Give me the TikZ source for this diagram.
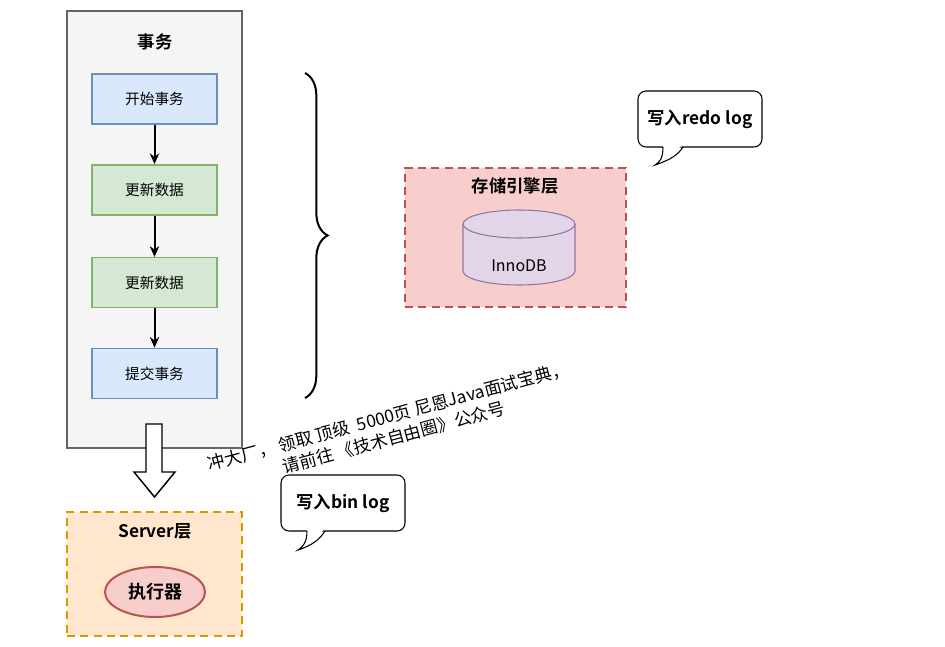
\documentclass[tikz,border=0pt]{standalone}
\usepackage{fontspec}
\setmainfont{Noto Sans CJK SC}[BoldFont={Noto Sans CJK SC Bold}]
\usepackage{xcolor}
\usepackage{tikz}
\usetikzlibrary{shapes.geometric, arrows.meta, positioning, decorations.pathreplacing}

\definecolor{txFill}{HTML}{F5F5F5}
\definecolor{txLine}{HTML}{666666}
\definecolor{blueFill}{HTML}{DAE8FC}
\definecolor{blueLine}{HTML}{6C8EBF}
\definecolor{greenFill}{HTML}{D5E8D4}
\definecolor{greenLine}{HTML}{82B366}
\definecolor{redFill}{HTML}{F8CECC}
\definecolor{redLine}{HTML}{B85450}
\definecolor{orangeFill}{HTML}{FFE6CC}
\definecolor{orangeLine}{HTML}{D79B00}
\definecolor{purpleFill}{HTML}{E1D5E7}
\definecolor{purpleLine}{HTML}{9673A6}

\tikzset{
    stepbox/.style={draw, rectangle, line width=1.1pt, minimum width=93.75pt, minimum height=37.5pt, font=\fontsize{11}{13}\selectfont},
    txbox/.style={stepbox, fill=blueFill, draw=blueLine},
    databox/.style={stepbox, fill=greenFill, draw=greenLine},
    flowarrow/.style={-{Stealth[length=8pt, width=7pt]}, line width=1.5pt},
    layerbox/.style={draw, rectangle, line width=1.5pt, dash pattern=on 6pt off 4pt},
    titletext/.style={font=\fontsize{13}{15}\selectfont\bfseries},
    bubble/.style={draw, fill=white, line width=0.8pt, rounded corners=6pt, minimum width=93pt, minimum height=42pt, font=\fontsize{13}{15}\selectfont\bfseries},
}

\begin{document}
\begin{tikzpicture}[x=0.75pt, y=-0.75pt]
    \useasboundingbox (0,0) rectangle (945,646);

    % 事务
    \node[draw=txLine, fill=txFill, line width=1.5pt, minimum width=131.25pt, minimum height=327.75pt] (tx) at (154.5,229.5) {};
    \node[titletext] (txtitle) at (155,42) {事务};
    \node[txbox] (begin) at (154.5,99) {开始事务};
    \node[databox, below=29.5pt of begin] (update1) {更新数据};
    \node[databox, below=31pt of update1] (update2) {更新数据};
    \node[txbox, below=29.5pt of update2] (commit) {提交事务};
    \draw[flowarrow] (begin) -- (update1);
    \draw[flowarrow] (update1) -- (update2);
    \draw[flowarrow] (update2) -- (commit);

    % 空心箭头
    \draw[line width=1.1pt, fill=white] (146,424) -- (162,424) -- (162,472) -- (175,472) -- (154.5,497) -- (134,472) -- (146,472) -- cycle;

    % Server层
    \node[layerbox, fill=orangeFill, draw=orangeLine, minimum width=131.25pt, minimum height=93pt] (server) at (154.5,574) {};
    \node[titletext] (servertitle) at (155,531) {Server层};
    \node[ellipse, draw=redLine, fill=redFill, line width=1.5pt, minimum width=75pt, minimum height=37.5pt, font=\fontsize{13.5}{15}\selectfont\bfseries] (executor) at (155,592) {执行器};

    % 括号
    \coordinate (bracetop) at (305,73);
    \coordinate (bracebot) at (305,398);
    \draw[line width=1.5pt, decorate, decoration={brace, amplitude=17pt}] (bracetop) -- (bracebot);

    % 存储引擎层
    \node[layerbox, fill=redFill, draw=redLine, minimum width=165.75pt, minimum height=104.25pt] (engine) at (515.5,237.5) {};
    \node[titletext] (enginetitle) at (515,186) {存储引擎层};
    \filldraw[fill=purpleFill, draw=purpleLine, line width=0.8pt] (463,224) -- (463,271) arc[start angle=180, end angle=360, x radius=42pt, y radius=10.5pt] -- (575,224) arc[start angle=0, end angle=180, x radius=42pt, y radius=10.5pt] -- cycle;
    \draw[purpleLine, line width=0.8pt] (463,224) arc[start angle=180, end angle=360, x radius=42pt, y radius=10.5pt];
    \node[font=\fontsize{12}{14}\selectfont] (innodb) at (519,266) {InnoDB};

    % 气泡
    \node[bubble] (redo) at (700,119) {写入redo log};
    \fill[white] (663.5,145.5) -- (682.5,145.5) -- (655,165) -- cycle;
    \draw[line width=0.8pt] (663,147) .. controls (663,158) and (660,162) .. (655,165) .. controls (670,160) and (678,155) .. (683,147);
    \node[bubble] (binlog) at (343,503) {写入bin log};
    \fill[white] (307.5,529.5) -- (324.5,529.5) -- (298,550) -- cycle;
    \draw[line width=0.8pt] (307,531) .. controls (307,542) and (303,547) .. (298,550) .. controls (313,545) and (320,539) .. (325,531);

    % 说明文字
    \node[rotate=15, align=center, font=\fontsize{13}{16.5}\selectfont] (promo) at (391,427) {冲大厂， 领取 顶级\ \ 5000页 尼恩Java面试宝典，\\请前往 《技术自由圈》公众号};
\end{tikzpicture}
\end{document}
